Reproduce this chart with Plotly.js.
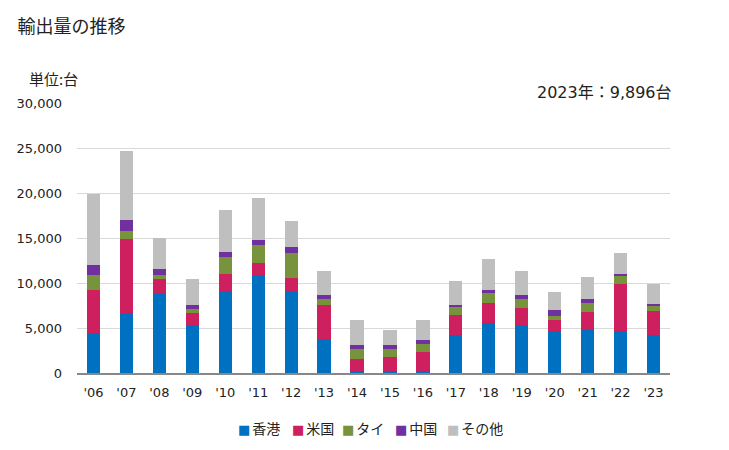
<!DOCTYPE html>
<html><head><meta charset="utf-8">
<script src="https://cdn.plot.ly/plotly-3.0.1.min.js"></script>
<style>html,body{margin:0;padding:0;background:#fff}#c{width:729px;height:450px}</style>
</head><body><div id="c"></div>
<script>
const years = ["'06","'07","'08","'09","'10","'11","'12","'13","'14","'15","'16","'17","'18","'19","'20","'21","'22","'23"];
const hongkong = [4400,6700,8850,5370,9150,10850,9150,3740,180,180,180,4260,5520,5300,4700,4850,4630,4260];
const usa      = [4850,8150,1630,1330,1880,1410,1440,3780,1340,1560,2120,2150,2220,1880,1150,1890,5220,2590];
const thailand = [1670,880,370,450,1890,2000,2780,670,1180,960,880,890,1110,1000,450,1000,890,560];
const china    = [1110,1230,740,440,560,480,660,510,370,450,450,220,330,450,660,440,220,220];
const others   = [7890,7740,3440,2890,4670,4740,2890,2670,2860,1670,2300,2740,3520,2670,2000,2450,2330,2266];
const seriesNames = ["香港","米国","タイ","中国","その他"];
const colors = ["#0070C0","#CE1F5E","#77933C","#7030A0","#BFBFBF"];
const font = "'DejaVu Sans', 'Noto Sans CJK JP', sans-serif";
const cjk = "'Noto Sans CJK JP', sans-serif";
const data = [hongkong, usa, thailand, china, others].map((v,i)=>({
  type:'bar', x:years, y:v, name:seriesNames[i], marker:{color:colors[i]},
  hovertemplate:'%{x}: %{y}<extra>'+seriesNames[i]+'</extra>'
}));
const legendX = [0.268, 0.360, 0.443, 0.533, 0.621];
const legendAnn = seriesNames.map((n,i)=>({
  text:'<span style="color:'+colors[i]+';font-family:DejaVu Sans;font-size:13px">■</span><span style="font-size:6px"> </span><span style="font-family:Noto Sans CJK JP">'+n+'</span>',
  xref:'paper', yref:'paper', x:legendX[i], y:-0.205, xanchor:'left', yanchor:'middle',
  showarrow:false, font:{size:14, color:'#222'}
}));
const layout = {
  width:729, height:450, barmode:'stack', bargap:0.6,
  paper_bgcolor:'#fff', plot_bgcolor:'#fff',
  margin:{l:77,r:59,t:103,b:77, autoexpand:false},
  font:{family:font, size:13, color:'#222'},
  title:{text:'輸出量の推移', x:0.024, xanchor:'left', y:0.94, yanchor:'middle', font:{size:18, family:cjk, color:'#222'}},
  xaxis:{type:'category', showgrid:false, showline:true, linecolor:'#888', linewidth:2, ticks:'', tickfont:{size:13}, automargin:false, ticklabelstandoff:6},
  yaxis:{range:[0,30000], dtick:5000, tickformat:',d', showgrid:true, gridcolor:'#d9d9d9', gridwidth:1, zeroline:false, ticks:'', ticklen:0, tickfont:{size:13}, automargin:false, ticklabelstandoff:14},
  showlegend:false,
  annotations:[
    {text:'単位:台', xref:'paper', yref:'paper', x:-0.085, y:1.09, xanchor:'left', yanchor:'middle', showarrow:false, font:{size:15, family:cjk}},
    {text:'2023年：9,896台', xref:'paper', yref:'paper', x:1.006, y:1.04, xanchor:'right', yanchor:'middle', showarrow:false, font:{size:16, family:font}}
  ].concat(legendAnn)
};
Plotly.newPlot('c', data, layout, {displayModeBar:false, staticPlot:true});
</script></body></html>
